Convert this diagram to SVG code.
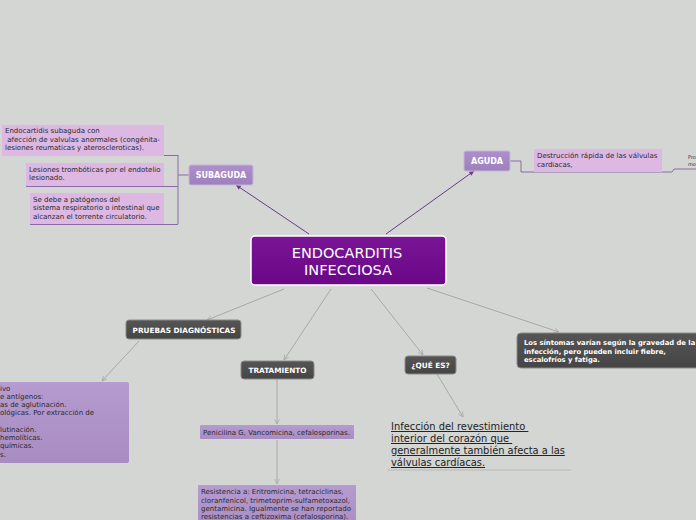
<svg xmlns="http://www.w3.org/2000/svg" width="696" height="520" viewBox="0 0 696 520">
<defs>
<marker id="ag" viewBox="0 0 10 10" refX="9" refY="5" markerWidth="6" markerHeight="6" orient="auto" markerUnits="userSpaceOnUse"><path d="M1,1 L9,5 L1,9" fill="none" stroke="#a8a8a8" stroke-width="1.3"/></marker>
<marker id="ap" viewBox="0 0 10 10" refX="9" refY="5" markerWidth="6" markerHeight="6" orient="auto" markerUnits="userSpaceOnUse"><path d="M1,1 L9,5 L1,9 Z" fill="#6a3a8e"/></marker>
<linearGradient id="gc" x1="0" y1="0" x2="0" y2="1"><stop offset="0" stop-color="#7a1696"/><stop offset="1" stop-color="#6a0786"/></linearGradient>
<linearGradient id="gl" x1="0" y1="0" x2="0" y2="1"><stop offset="0" stop-color="#ad8fcb"/><stop offset="1" stop-color="#9e80bd"/></linearGradient>
<linearGradient id="gd" x1="0" y1="0" x2="0" y2="1"><stop offset="0" stop-color="#555"/><stop offset="1" stop-color="#454545"/></linearGradient>
<linearGradient id="gb" x1="0" y1="0" x2="0" y2="1"><stop offset="0" stop-color="#b59bcf"/><stop offset="1" stop-color="#a88cc2"/></linearGradient>
</defs>
<style>
text{font-family:"DejaVu Sans",Verdana,sans-serif}
.lab{font-size:7.3px;font-weight:bold;fill:#fff;text-anchor:middle}
.lp{font-size:8px}
.sm{font-size:7px;fill:#2a2a2a}
.pk{fill:#dcb8e2}
.pb{fill:url(#gb)}
.gl{stroke:#a8a8a8;stroke-width:1;fill:none}
.pl{stroke:#6a3a8e;stroke-width:1;fill:none}
.br{stroke:#8a6aa8;stroke-width:1;fill:none}
.ul{font-size:9.9px;fill:#222;text-decoration:underline}
</style>
<rect width="696" height="520" fill="#d4d6d3"/>

<g id="connectors">
<line class="pl" x1="309" y1="234" x2="236" y2="185" marker-end="url(#ap)"/>
<line class="pl" x1="386" y1="234" x2="474" y2="171" marker-end="url(#ap)"/>
<line class="gl" x1="284" y1="289" x2="207" y2="320" marker-end="url(#ag)"/>
<line class="gl" x1="331" y1="289" x2="284" y2="360" marker-end="url(#ag)"/>
<line class="gl" x1="371" y1="289" x2="423" y2="355" marker-end="url(#ag)"/>
<line class="gl" x1="427" y1="288" x2="559" y2="332" marker-end="url(#ag)"/>
<line class="gl" x1="139" y1="341" x2="102" y2="381" marker-end="url(#ag)"/>
<line class="gl" x1="277" y1="379" x2="277" y2="424" marker-end="url(#ag)"/>
<line class="gl" x1="277" y1="440" x2="277" y2="484" marker-end="url(#ag)"/>
<line class="gl" x1="437" y1="374" x2="463" y2="417" marker-end="url(#ag)"/>
<path class="br" d="M189,175 H178 M178,155 V224 M2,155.5 H178 M26,186.5 H178 M30,224.5 H178"/>
<path class="br" d="M510,161 H521 V172 H672 L674,169 H696"/>
<line x1="387" y1="470" x2="571" y2="470" stroke="#b8b8b8" stroke-width="1"/>
</g>

<g id="central">
<rect x="251" y="236" width="195" height="49" rx="4" fill="url(#gc)" stroke="#fff" stroke-width="1.5"/>
<text x="347" y="258" font-size="14.5" fill="#fff" text-anchor="middle">ENDOCARDITIS</text>
<text x="348" y="275" font-size="14.5" fill="#fff" text-anchor="middle"> INFECCIOSA</text>
</g>

<g id="subaguda">
<rect x="189" y="165" width="64" height="20" rx="2" fill="url(#gl)" stroke="#c7b4d8" stroke-width="1"/>
<text class="lab lp" x="221" y="178">SUBAGUDA</text>
</g>
<g id="sub1">
<rect class="pk" x="2" y="125" width="162" height="31"/>
<text class="sm" x="5" y="133">Endocartidis subaguda con</text>
<text class="sm" x="5" y="142" xml:space="preserve"> afección de valvulas anormales (congénita-</text>
<text class="sm" x="5" y="150">lesiones reumaticas y ateroscleroticas).</text>
</g>
<g id="sub2">
<rect class="pk" x="26" y="163" width="138" height="23"/>
<text class="sm" x="29" y="172">Lesiones trombóticas por el endotelio</text>
<text class="sm" x="29" y="180">lesionado.</text>
</g>
<g id="sub3">
<rect class="pk" x="30" y="193" width="134" height="31"/>
<text class="sm" x="33" y="202">Se debe a patógenos del</text>
<text class="sm" x="33" y="210">sistema respiratorio o intestinal que</text>
<text class="sm" x="33" y="219">alcanzan el torrente circulatorio.</text>
</g>

<g id="aguda">
<rect x="464" y="151" width="46" height="20" rx="2" fill="url(#gl)" stroke="#c7b4d8" stroke-width="1"/>
<text class="lab lp" x="487" y="164">AGUDA</text>
</g>
<g id="aguda1">
<rect class="pk" x="534" y="149" width="128" height="23"/>
<text class="sm" x="537" y="158">Destrucción rápida de las válvulas</text>
<text class="sm" x="537" y="167">cardiacas,</text>
</g>
<g id="aguda2">
<text x="688" y="159" font-size="5" fill="#333">Pro</text>
<text x="688" y="166" font-size="5" fill="#333">mo</text>
</g>

<g id="pruebas">
<rect x="126" y="320" width="115" height="19" rx="3" fill="url(#gd)" stroke="#8a8a8a" stroke-width="1"/>
<text class="lab" x="184" y="332.5">PRUEBAS DIAGNÓSTICAS</text>
</g>
<g id="pruebas1">
<rect class="pb" x="-5" y="382" width="134" height="81" rx="2"/>
<text class="sm" x="0" y="391">ivo</text>
<text class="sm" x="0" y="399">e antígenos:</text>
<text class="sm" x="0" y="407">as de aglutinación.</text>
<text class="sm" x="0" y="415">ológicas. Por extracción de</text>
<text class="sm" x="0" y="432">lutinación.</text>
<text class="sm" x="0" y="440">hemolíticas.</text>
<text class="sm" x="0" y="448">químicas.</text>
<text class="sm" x="0" y="457">s.</text>
</g>

<g id="tratamiento">
<rect x="241" y="361" width="73" height="18" rx="3" fill="url(#gd)" stroke="#8a8a8a" stroke-width="1"/>
<text class="lab" x="277.5" y="373">TRATAMIENTO</text>
</g>
<g id="trat1">
<rect class="pb" x="200" y="425" width="154" height="14" rx="1"/>
<text class="sm" x="203" y="435">Penicilina G, Vancomicina, cefalosporinas.</text>
</g>
<g id="trat2">
<rect class="pb" x="198" y="485" width="158" height="45" rx="1"/>
<text class="sm" x="201" y="494">Resistencia a: Eritromicina, tetraciclinas,</text>
<text class="sm" x="201" y="502.5">cloranfenicol, trimetoprim-sulfametoxazol,</text>
<text class="sm" x="201" y="511">gentamicina. Igualmente se han reportado</text>
<text class="sm" x="201" y="518.5">resistencias a ceftizoxima (cefalosporina).</text>
</g>

<g id="quees">
<rect x="405" y="356" width="51" height="18" rx="3" fill="url(#gd)" stroke="#8a8a8a" stroke-width="1"/>
<text class="lab" x="430.5" y="368">¿QUÉ ES?</text>
</g>
<g id="quees1">
<text class="ul" x="391" y="430" xml:space="preserve">Infección del revestimiento </text>
<text class="ul" x="391" y="442" xml:space="preserve">interior del corazón que </text>
<text class="ul" x="391" y="454">generalmente también afecta a las</text>
<text class="ul" x="391" y="466">válvulas cardíacas.</text>
</g>

<g id="sintomas">
<rect x="517" y="333" width="190" height="35" rx="4" fill="url(#gd)" stroke="#8a8a8a" stroke-width="1"/>
<text x="524" y="345" font-size="6.8" font-weight="bold" fill="#fff">Los síntomas varían según la gravedad de la</text>
<text x="524" y="353.5" font-size="6.8" font-weight="bold" fill="#fff">infección, pero pueden incluir fiebre,</text>
<text x="524" y="362" font-size="6.8" font-weight="bold" fill="#fff">escalofríos y fatiga.</text>
</g>
</svg>
